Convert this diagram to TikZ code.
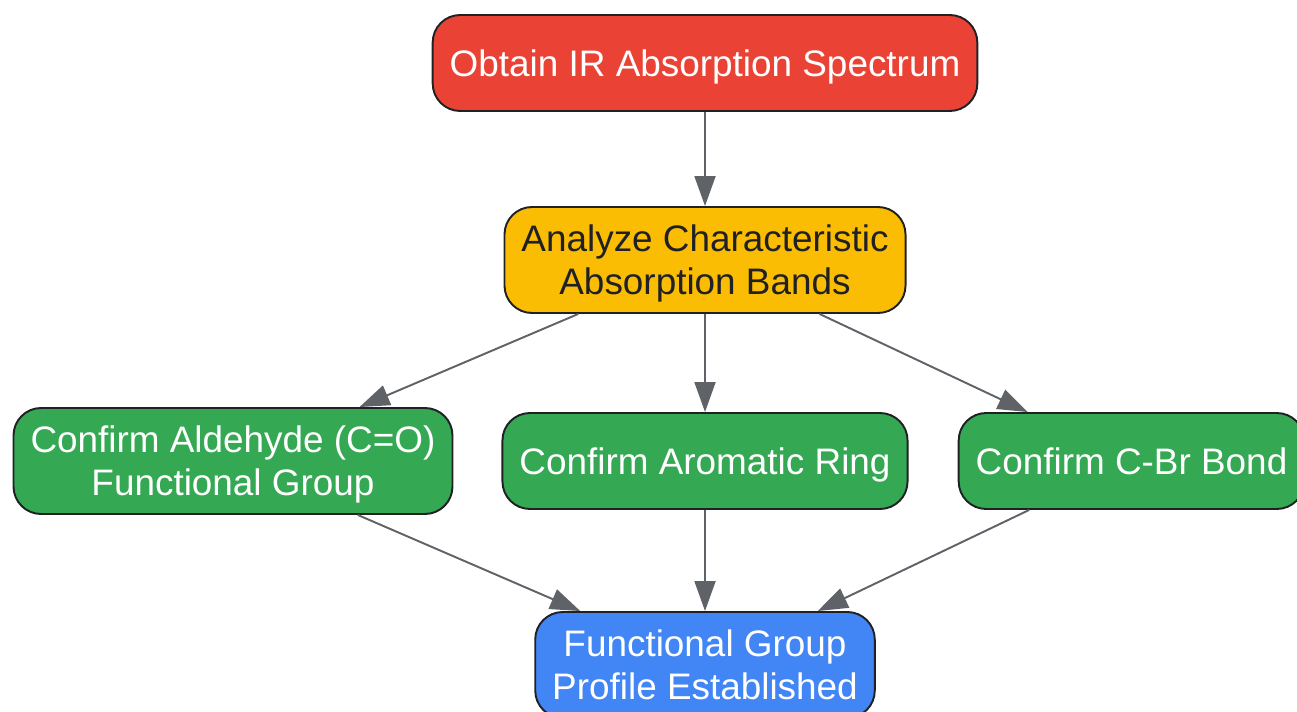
\documentclass[tikz,border=0pt]{standalone}
\usepackage{fontspec}
\setmainfont{Liberation Sans}
\usepackage{xcolor}
\usepackage{tikz}
\usetikzlibrary{arrows.meta}

\definecolor{irred}{HTML}{EA4335}
\definecolor{iryellow}{HTML}{FBBC04}
\definecolor{irgreen}{HTML}{34A853}
\definecolor{irblue}{HTML}{4285F4}
\definecolor{irdark}{HTML}{202124}
\definecolor{irgray}{HTML}{5F6368}

\begin{document}
\begin{tikzpicture}[x=0.02cm, y=-0.02cm,
		box/.style={draw=irdark, line width=1.1pt, rounded corners=0.55cm, align=center,
			inner xsep=0.34cm, minimum height=1.92cm, text=white, text depth=0pt,
			font=\fontsize{21}{24.6}\selectfont},
		tall/.style={minimum height=2.12cm},
		flow/.style={draw=irgray, line width=1.1pt, -{Triangle[length=0.6cm, width=0.42cm]}}]
				\useasboundingbox (0,0) rectangle (1297,712);
				\clip (0,0) rectangle (1297,712);
				
				\node [box, fill=irred] (obtain) at (705,63) {Obtain IR Absorption Spectrum};
				\node [box, tall, fill=iryellow, text=irdark] (analyze) at (705,260) {Analyze Characteristic\\Absorption Bands};
				
				\node [box, tall, fill=irgreen] (aldehyde) at (233,461) {Confirm Aldehyde (C=O)\\Functional Group};
				\node [box, fill=irgreen] (aromatic) at (705,461) {Confirm Aromatic Ring};
				\node [box, fill=irgreen] (cbr) at (1131.5,461) {Confirm C-Br Bond};
				
				\node [box, tall, fill=irblue] (profile) at (705,665) {Functional Group\\Profile Established};
				
				\draw [flow] (obtain) -- (analyze);
				\draw [flow] (analyze) -- (aldehyde);
				\draw [flow] (analyze) -- (aromatic);
				\draw [flow] (analyze) -- (cbr);
				\draw [flow] (aldehyde) -- (profile);
				\draw [flow] (aromatic) -- (profile);
				\draw [flow] (cbr) -- (profile);
\end{tikzpicture}
\end{document}
